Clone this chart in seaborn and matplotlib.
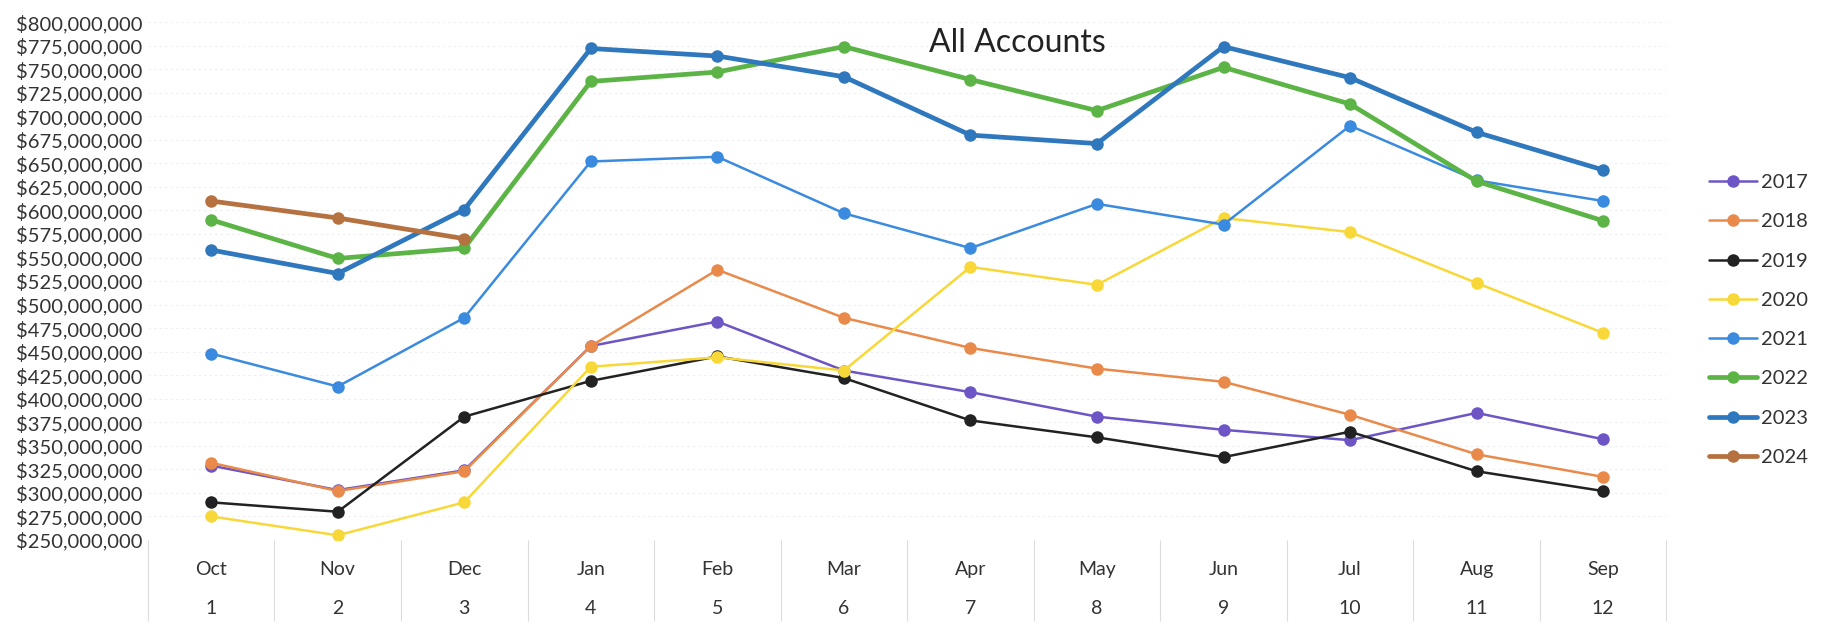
import numpy as np
import pandas as pd
import matplotlib
matplotlib.use("Agg")
import matplotlib.pyplot as plt
import seaborn as sns
from matplotlib.ticker import FuncFormatter, FixedLocator

# ---------------------------------------------------------
# Data (values in millions of dollars)
# ---------------------------------------------------------
months = ["Oct", "Nov", "Dec", "Jan", "Feb", "Mar", "Apr", "May", "Jun", "Jul", "Aug", "Sep"]
month_nums = list(range(1, 13))

y2017 = [329, 303, 324, 456, 482, 430, 407, 381, 367, 356, 385, 357]
y2018 = [332, 302, 323, 456, 537, 486, 454, 432, 418, 383, 341, 317]
y2019 = [290, 280, 381, 419, 445, 422, 377, 359, 338, 365, 323, 302]
y2020 = [275, 255, 290, 434, 444, 430, 540, 521, 592, 577, 523, 470]
y2021 = [448, 413, 486, 652, 657, 597, 560, 607, 585, 690, 632, 610]
y2022 = [590, 549, 560, 737, 747, 774, 739, 706, 752, 713, 631, 589]
y2023 = [558, 533, 601, 772, 764, 742, 680, 671, 774, 741, 683, 643]
y2024 = [610, 592, 570]

series = {
    "2017": y2017, "2018": y2018, "2019": y2019, "2020": y2020,
    "2021": y2021, "2022": y2022, "2023": y2023, "2024": y2024,
}
colors = {
    "2017": "#6E55C6", "2018": "#E98A4B", "2019": "#222222", "2020": "#F8D838",
    "2021": "#3A8AE0", "2022": "#5DB446", "2023": "#2F78BD", "2024": "#B5713F",
}
thick = {"2022", "2023", "2024"}

rows = []
for yr, vals in series.items():
    for i, v in enumerate(vals):
        rows.append({"year": yr, "pos": i, "value": v * 1e6})
df = pd.DataFrame(rows)

# ---------------------------------------------------------
# Plot
# ---------------------------------------------------------
sns.set_style("white")
plt.rcParams["font.family"] = ["Lato", "DejaVu Sans"]

fig = plt.figure(figsize=(18.26, 6.25), dpi=100)
ax = fig.add_axes([0.081, 0.136, 0.8316, 0.8286])

for yr in series:
    sub = df[df["year"] == yr]
    lw = 3.4 if yr in thick else 1.8
    sns.lineplot(data=sub, x="pos", y="value", ax=ax, color=colors[yr], lw=lw,
                 marker="o", markersize=9, markeredgewidth=0, label=yr)

ax.set_xlim(-0.5, 11.5)
ax.set_ylim(250e6, 800e6)
ax.yaxis.set_major_locator(FixedLocator(np.arange(250e6, 800e6 + 1, 25e6)))
ax.yaxis.set_major_formatter(FuncFormatter(lambda v, p: f"${v:,.0f}"))
ax.tick_params(axis="y", labelsize=14.5, length=0, pad=4, labelcolor="#333333")

ax.set_xticks(range(12))
ax.set_xticklabels([f"{m}\n\n{n}" for m, n in zip(months, month_nums)],
                   fontsize=14, color="#333333", linespacing=1.2)
ax.tick_params(axis="x", length=0, pad=15)
# category separators running down through the label area
ax.set_xticks(np.arange(-0.5, 12, 1), minor=True)
ax.tick_params(axis="x", which="minor", bottom=True, length=58, width=0.8,
               color="#dcdcdc", direction="out")

ax.grid(axis="y", color="#eeeeee", lw=0.8, ls=(0, (2, 3)))
for s in ax.spines.values():
    s.set_visible(False)
ax.set_xlabel("")
ax.set_ylabel("")

ax.get_legend().remove()
handles, labels = ax.get_legend_handles_labels()
fig.legend(handles, labels, loc="center left", bbox_to_anchor=(0.926, 0.488),
           frameon=False, fontsize=14.5, labelspacing=1.1, handlelength=2.4,
           handletextpad=0.2, labelcolor="#333333")

fig.text(0.557, 0.932, "All Accounts", ha="center", va="center", fontsize=23, color="#222222")

fig.savefig("out.png", dpi=100)
